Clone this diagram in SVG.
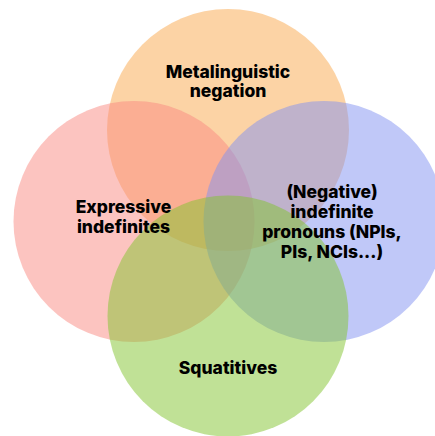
<svg xmlns="http://www.w3.org/2000/svg" width="435" height="436" viewBox="0 0 435 436">
<style>
.c{opacity:0.5}
text{font-family:Inter,"Open Sans","Liberation Sans",sans-serif;font-weight:800;font-size:17.5px;fill:#000;text-anchor:middle}
</style>
<rect width="435" height="436" fill="#fff"/>
<g id="metalinguistic">
<circle class="c" cx="228" cy="130" r="121" fill="#F9A84C"/>
</g>
<g id="expressive">
<circle class="c" cx="134" cy="221.5" r="120.5" fill="#F98981"/>
</g>
<g id="negative">
<circle class="c" cx="324" cy="221.5" r="120.5" fill="#8191F1"/>
</g>
<g id="squatitives">
<circle class="c" cx="228" cy="316" r="120.5" fill="#81C32D"/>
</g>
<g id="labels">
<text x="228" y="78">Metalinguistic</text>
<text x="228" y="97">negation</text>
<text x="123.5" y="213">Expressive</text>
<text x="123.5" y="233">indefinites</text>
<text x="332" y="198">(Negative)</text>
<text x="332" y="218">indefinite</text>
<text x="332" y="238">pronouns (NPIs,</text>
<text x="332" y="258">PIs, NCIs...)</text>
<text x="228" y="374">Squatitives</text>
</g>
</svg>
